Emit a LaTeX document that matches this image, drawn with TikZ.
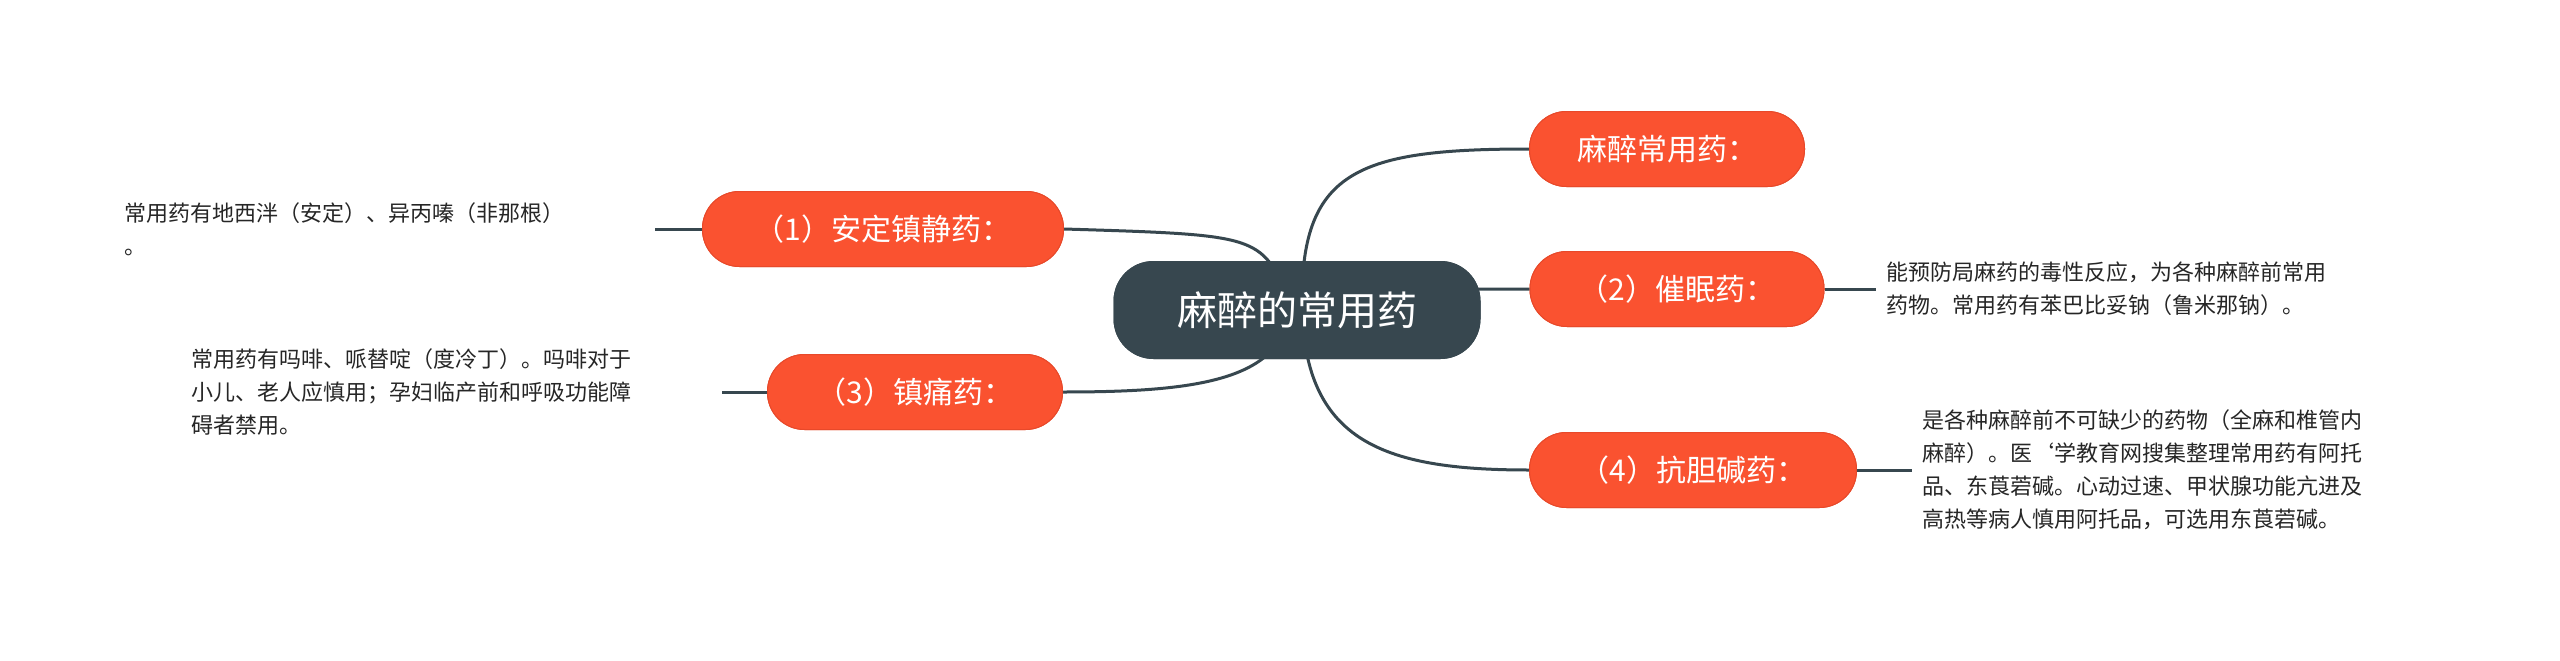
\documentclass[tikz,border=0pt]{standalone}
\usepackage{fontspec}
\setmainfont{Noto Sans CJK SC}
\begin{document}
\begin{tikzpicture}[x=1pt,y=-1pt,
  conn/.style={draw=slate,line width=3pt},
  sub/.style={fill=orng,draw=orngd,line width=1pt,text=white,rounded corners=37pt,minimum height=75pt,inner xsep=26pt,font=\fontsize{30}{36}\selectfont},
  leaf/.style={align=left,text=black!85,font=\fontsize{22}{33}\selectfont,inner sep=0pt}]
\definecolor{slate}{HTML}{37474F}
\definecolor{orng}{HTML}{FA5230}
\definecolor{orngd}{HTML}{E8492A}
\useasboundingbox[fill=white] (0,0) rectangle (2560,661);
\node[fill=slate,text=white,rounded corners=40pt,minimum height=98pt,minimum width=367pt,font=\fontsize{40}{48}\selectfont] (c) at (1297,310) {麻醉的常用药};
\node[sub,minimum width=275pt] (a) at (1667,149) {麻醉常用药：};
\node[sub,minimum width=294pt] (b2) at (1677,289) {（2）催眠药：};
\node[sub,minimum width=327pt] (b4) at (1693,470) {（4）抗胆碱药：};
\node[sub,minimum width=361pt] (b1) at (883,229) {（1）安定镇静药：};
\node[sub,minimum width=295pt] (b3) at (915,392) {（3）镇痛药：};
\coordinate (cr) at (1302,300);
\coordinate (cl) at (1290,300);
\draw[conn] (cr) .. controls (1302,170) and (1360,149) .. (a.west);
\draw[conn] (cr) .. controls (1330,289) .. (b2.west);
\draw[conn] (cr) .. controls (1302,440) and (1380,470) .. (b4.west);
\draw[conn] (cl) .. controls (1260,235) .. (b1.east);
\draw[conn] (cl) .. controls (1290,380) and (1200,392) .. (b3.east);
\node[sub,minimum width=367pt,fill=slate,draw=none,text=white,rounded corners=40pt,minimum height=98pt,font=\fontsize{40}{48}\selectfont] at (1297,310) {麻醉的常用药};
\node[sub,minimum width=275pt] at (1667,149) {麻醉常用药：};
\node[sub,minimum width=294pt] at (1677,289) {（2）催眠药：};
\node[sub,minimum width=327pt] at (1693,470) {（4）抗胆碱药：};
\node[sub,minimum width=361pt] at (883,229) {（1）安定镇静药：};
\node[sub,minimum width=295pt] at (915,392) {（3）镇痛药：};
\node[leaf,anchor=west] (l1) at (124,229) {常用药有地西泮（安定）、异丙嗪（非那根）\\。};
\node[leaf,anchor=west] (l3) at (191,392) {常用药有吗啡、哌替啶（度冷丁）。吗啡对于\\小儿、老人应慎用；孕妇临产前和呼吸功能障\\碍者禁用。};
\node[leaf,anchor=west] (l2) at (1886,289) {能预防局麻药的毒性反应，为各种麻醉前常用\\药物。常用药有苯巴比妥钠（鲁米那钠）。};
\node[leaf,anchor=west] (l4) at (1922,470) {是各种麻醉前不可缺少的药物（全麻和椎管内\\麻醉）。医`学教育网搜集整理常用药有阿托\\品、东莨菪碱。心动过速、甲状腺功能亢进及\\高热等病人慎用阿托品，可选用东莨菪碱。};
\draw[conn] (b1.west) -- (655,229);
\draw[conn] (b3.west) -- (722,392);
\draw[conn] (b2.east) -- (1876,289);
\draw[conn] (b4.east) -- (1912,470);
\end{tikzpicture}
\end{document}
